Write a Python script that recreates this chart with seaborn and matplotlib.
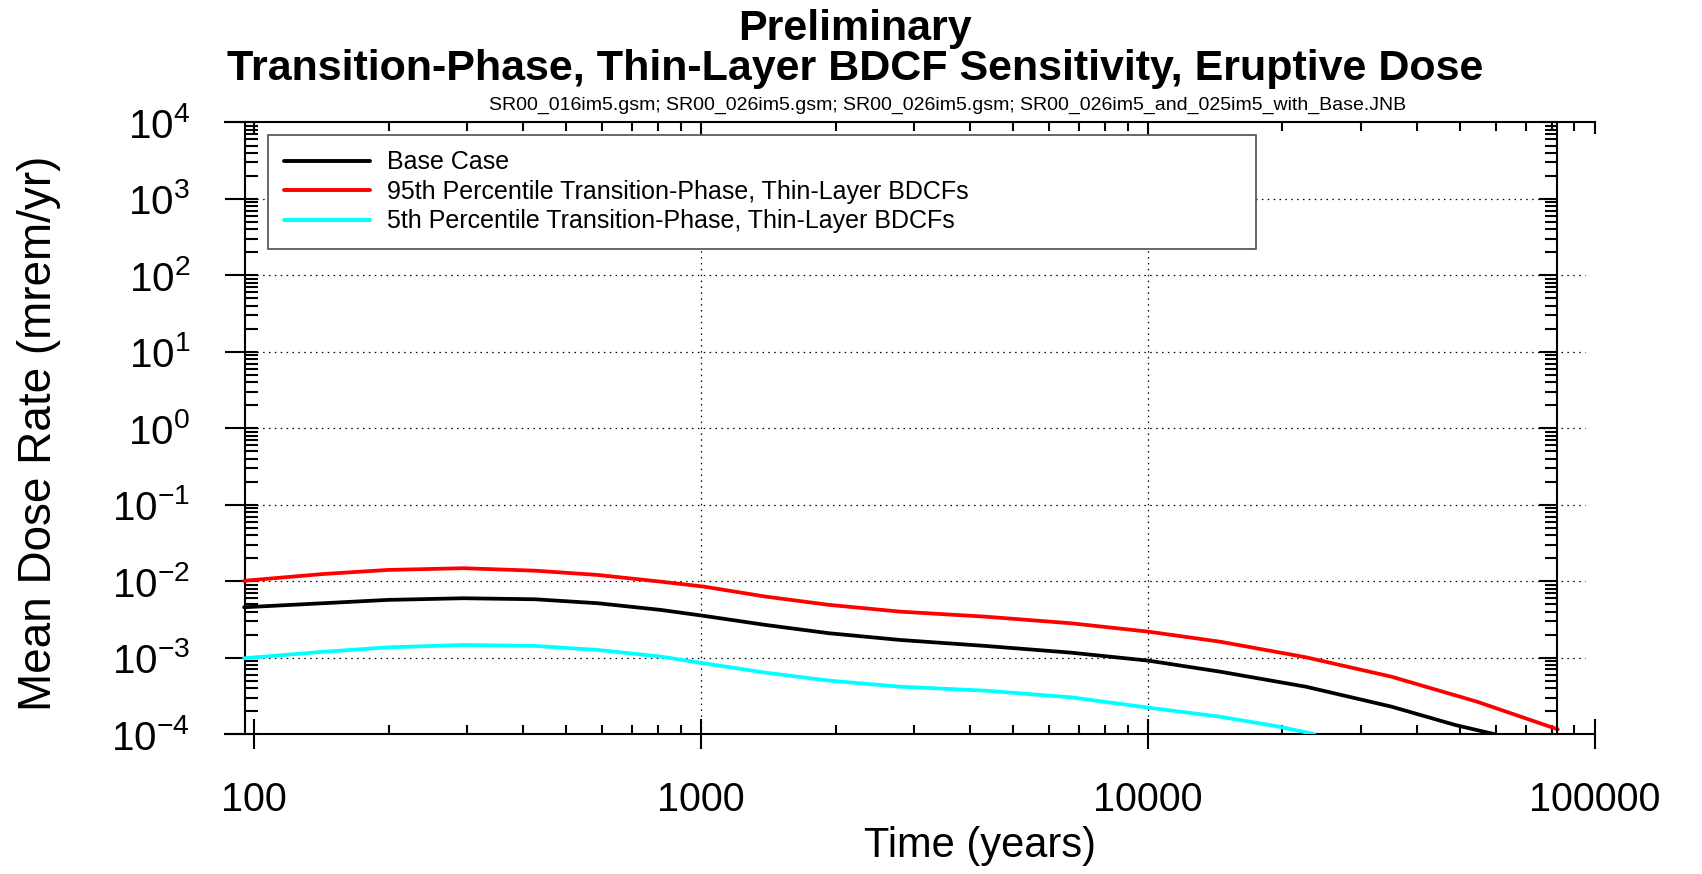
import numpy as np
import pandas as pd
import matplotlib
matplotlib.use("Agg")
import matplotlib.pyplot as plt
from matplotlib.lines import Line2D
from matplotlib.ticker import FixedLocator, LogLocator, NullFormatter
import seaborn as sns

# values (time in years, dose in mrem/yr)
base_time = [95, 143, 199, 294, 425, 587, 813, 1016, 1396, 1935, 2786, 4325, 6724, 10040,
             14520, 22540, 35060, 48740, 59400]
base_dose = [0.00455, 0.00514, 0.00568, 0.00597, 0.00579, 0.00514, 0.0042, 0.00351, 0.00267,
             0.00208, 0.0017, 0.00142, 0.00116, 0.00091, 0.000653, 0.000416, 0.000228,
             0.000131, 0.0001]

p95_time = [95, 143, 199, 294, 425, 587, 813, 1016, 1396, 1935, 2786, 4325, 6724, 10040,
            14520, 22540, 35060, 54450, 82600]
p95_dose = [0.0101, 0.0124, 0.0140, 0.01476, 0.0137, 0.01205, 0.00984, 0.00847, 0.00627,
            0.00489, 0.00399, 0.00343, 0.00281, 0.00218, 0.00161, 0.00101, 0.000562,
            0.000265, 0.000115]

p5_time = [95, 143, 199, 294, 425, 587, 813, 1016, 1396, 1935, 2786, 4325, 6724, 10040,
           14520, 19300, 23550]
p5_dose = [0.00098, 0.00119, 0.00136, 0.00146, 0.00142, 0.00126, 0.00103, 0.00084, 0.000634,
           0.000499, 0.000416, 0.000369, 0.000302, 0.000221, 0.000168, 0.000127, 0.0001]

case_names = ["Base Case",
              "95th Percentile Transition-Phase, Thin-Layer BDCFs",
              "5th Percentile Transition-Phase, Thin-Layer BDCFs"]
case_colors = ["#000000", "#ff0000", "#00ffff"]

x_major = [100, 1000, 10000, 100000]
x_labels = ["100", "1000", "10000", "100000"]
y_exponents = [-4, -3, -2, -1, 0, 1, 2, 3, 4]
grid_x = [1000, 10000]

title_text = "Preliminary\nTransition-Phase, Thin-Layer BDCF Sensitivity, Eruptive Dose"
file_text = "SR00_016im5.gsm; SR00_026im5.gsm; SR00_026im5.gsm; SR00_026im5_and_025im5_with_Base.JNB"

# long table for seaborn
df = pd.concat([
    pd.DataFrame({"Time": t, "Dose": d, "Case": n})
    for t, d, n in zip([base_time, p95_time, p5_time], [base_dose, p95_dose, p5_dose], case_names)
], ignore_index=True)

sns.set_theme(style="ticks")
plt.rcParams["font.family"] = ["Liberation Sans", "DejaVu Sans"]
plt.rcParams["mathtext.fontset"] = "custom"
plt.rcParams["mathtext.rm"] = "Liberation Sans"
plt.rcParams["mathtext.it"] = "Liberation Sans:italic"
plt.rcParams["mathtext.bf"] = "Liberation Sans:bold"
plt.rcParams["text.color"] = "black"
plt.rcParams["axes.labelcolor"] = "black"
plt.rcParams["axes.edgecolor"] = "black"
plt.rcParams["xtick.color"] = "black"
plt.rcParams["ytick.color"] = "black"

W, H = 1702, 874
fig = plt.figure(figsize=(W / 100, H / 100), dpi=100)
ax = fig.add_axes([225 / W, 140 / H, 1370 / W, 611.5 / H])

x_lo, x_hi = 86.1, 100050
left_axis_x = 95.3
right_axis_x = 82300
y_lo, y_hi = 1e-4, 1e4

ax.set_xscale("log")
ax.set_yscale("log")
ax.set_xlim(x_lo, x_hi)
ax.set_ylim(y_lo, y_hi)

# dotted grid
dots = (0, (1.2, 3.5))
for e in y_exponents[1:-1]:
    end = right_axis_x if e == 3 else 95000
    ax.hlines(10.0 ** e, left_axis_x, end, colors="black", linewidth=0.9, linestyles=dots, zorder=1)
ax.vlines(grid_x, y_lo, y_hi, colors="black", linewidth=0.9, linestyles=dots, zorder=1)

sns.lineplot(data=df, x="Time", y="Dose", hue="Case", hue_order=case_names,
             palette=dict(zip(case_names, case_colors)), estimator=None,
             linewidth=2.7, legend=False, ax=ax, zorder=3)

# left + bottom axes
ax.spines["top"].set_visible(False)
ax.spines["right"].set_visible(False)
ax.spines["left"].set_position(("data", left_axis_x))
for s in ["left", "bottom"]:
    ax.spines[s].set_linewidth(1.5)

ax.set_xticks(x_major, labels=x_labels)
ax.xaxis.set_minor_locator(FixedLocator([m * 10 ** k for k in (2, 3, 4) for m in range(2, 10)]))
ax.xaxis.set_minor_formatter(NullFormatter())
ax.tick_params(axis="x", which="major", direction="inout", length=22.3, width=1.5,
               pad=23, labelsize=28.5, top=False)
ax.tick_params(axis="x", which="minor", direction="in", length=6.5, width=1.5, top=False)

ax.set_yticks([10.0 ** e for e in y_exponents], labels=[r"$10^{%d}$" % e for e in y_exponents])
ax.yaxis.set_minor_locator(LogLocator(base=10, subs=np.arange(1, 10), numticks=40))
ax.yaxis.set_minor_formatter(NullFormatter())
ax.yaxis.remove_overlapping_locs = False
ax.tick_params(axis="y", which="major", direction="out", length=14.4, width=1.5,
               pad=25, labelsize=29, right=False)
ax.tick_params(axis="y", which="minor", direction="in", length=9.2, width=1.5, right=False)

# right axis
ax2 = ax.twinx()
ax2.set_yscale("log")
ax2.set_ylim(y_lo, y_hi)
for s in ["left", "top", "bottom"]:
    ax2.spines[s].set_visible(False)
ax2.spines["right"].set_position(("data", right_axis_x))
ax2.spines["right"].set_linewidth(1.5)
ax2.yaxis.set_major_locator(FixedLocator([10.0 ** e for e in y_exponents]))
ax2.yaxis.set_minor_locator(LogLocator(base=10, subs=np.arange(2, 10), numticks=40))
ax2.yaxis.set_minor_formatter(NullFormatter())
ax2.tick_params(axis="y", which="major", direction="in", length=13, width=1.5, labelright=False)
ax2.tick_params(axis="y", which="minor", direction="in", length=8.6, width=1.5, labelright=False)

# top axis
ax3 = ax.twiny()
ax3.set_xscale("log")
ax3.set_xlim(x_lo, x_hi)
for s in ["left", "right", "bottom"]:
    ax3.spines[s].set_visible(False)
ax3.spines["top"].set_linewidth(1.5)
ax3.xaxis.set_major_locator(FixedLocator(x_major))
ax3.xaxis.set_minor_locator(FixedLocator([m * 10 ** k for k in (2, 3, 4) for m in range(2, 10)]))
ax3.xaxis.set_minor_formatter(NullFormatter())
ax3.tick_params(axis="x", which="major", direction="in", length=8.5, width=1.5, labeltop=False)
ax3.tick_params(axis="x", which="minor", direction="in", length=6.5, width=1.5, labeltop=False)

# legend
handles = [Line2D([], [], color=c, linewidth=2.8) for c in case_colors]
leg = ax.legend(handles, case_names, loc="upper left",
                bbox_to_anchor=(0.0314, 0.5, 0.7212, 0.4802), mode="expand",
                borderaxespad=0, fontsize=18, frameon=True, fancybox=False,
                framealpha=1, edgecolor="#4d4d4d", handlelength=3.44,
                handletextpad=0.7, labelspacing=0.22, borderpad=0.63)
leg.get_frame().set_linewidth(1.2)

# labels and titles
ax.set_xlabel("Time (years)", fontsize=30)
ax.xaxis.set_label_coords(0.551, -0.150)
ax.set_ylabel("Mean Dose Rate (mrem/yr)", fontsize=33)
ax.yaxis.set_label_coords(-0.120, 0.492)

fig.suptitle(title_text, x=855 / W, y=1 - 9 / H, va="top", fontsize=31,
             fontweight="bold", linespacing=1.01)
fig.text(947.5 / W, 1 - 105 / H, file_text, ha="center", va="center", fontsize=14)

fig.savefig("out.png", dpi=100)
